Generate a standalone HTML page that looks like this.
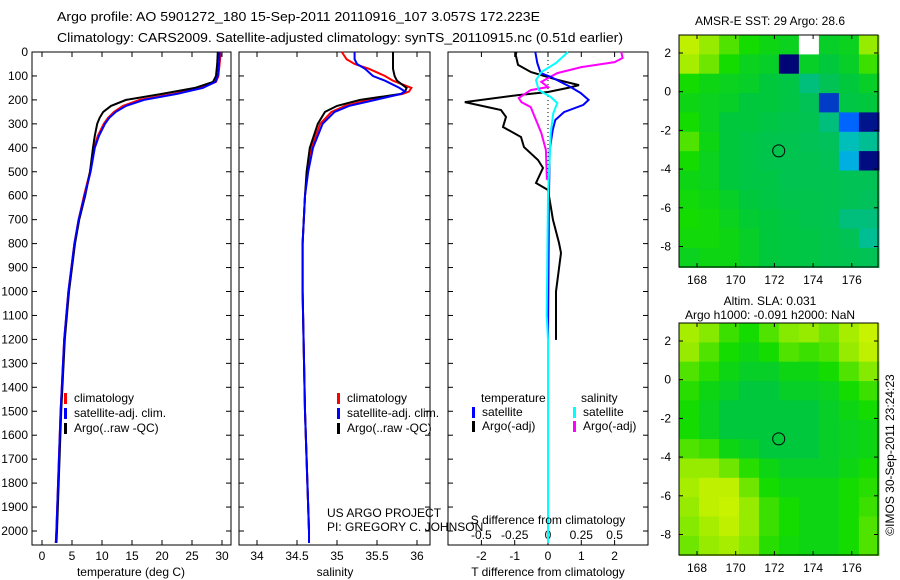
<!DOCTYPE html>
<html><head><meta charset="utf-8">
<style>
html,body{margin:0;padding:0;background:#fff;}
svg{display:block;font-family:"Liberation Sans",sans-serif;font-size:12px;}
</style></head>
<body>
<svg id="fig" width="900" height="580" viewBox="0 0 900 580" xmlns="http://www.w3.org/2000/svg">
<text x="57" y="21" font-size="13" textLength="483" lengthAdjust="spacingAndGlyphs">Argo profile: AO 5901272_180 15-Sep-2011 20110916_107 3.057S 172.223E</text>
<text x="57" y="42" font-size="13" textLength="566" lengthAdjust="spacingAndGlyphs">Climatology: CARS2009. Satellite-adjusted climatology: synTS_20110915.nc (0.51d earlier)</text>
<g id="p1"></g>
<g id="p2"></g>
<g id="p3"></g>
<g id="m1"></g>
<g id="m2"></g>
<text x="327" y="517">US ARGO PROJECT</text>
<text x="327" y="531">PI: GREGORY C. JOHNSON</text>
<text x="770" y="25" text-anchor="middle">AMSR-E SST: 29 Argo: 28.6</text>
<text x="770" y="305" text-anchor="middle">Altim. SLA: 0.031</text>
<text x="770" y="319" text-anchor="middle">Argo h1000: -0.091 h2000: NaN</text>
<text transform="translate(894,455) rotate(-90)" text-anchor="middle">©IMOS 30-Sep-2011 23:24:23</text>
</svg>
<script>
// ---- data ----
const depthTicks=[0,100,200,300,400,500,600,700,800,900,1000,1100,1200,1300,1400,1500,1600,1700,1800,1900,2000];
const tempTicks=[0,5,10,15,20,25,30];
const salTicks=[34,34.5,35,35.5,36];
const tdiffTicks=[-2,-1,0,1,2];
const sdiffTicks=[-0.5,-0.25,0,0.25,0.5];
const sdiffTickLabels=["-0.5","-0.25","0","0.25","0.5"];

const tDepth=[0,50,100,125,150,175,200,225,250,275,300,350,400,500,600,700,800,1000,1200,1500,2000,2050];
const tArgo=[29.3,29.2,29.0,28.5,25.5,20,14,11.5,10.2,9.6,9.2,8.8,8.5,8.0,7.2,6.2,5.5,4.5,3.8,3.2,2.5,2.4];
const tClim=[29.8,29.6,29.4,29.0,26.5,22,16.3,13.5,12,11,10.3,9.3,8.7,8.0,7.0,6.1,5.4,4.4,3.7,3.1,2.4,2.3];
const tSat=[29.6,29.5,29.3,28.9,26.8,22.5,17,14,12.3,11.2,10.5,9.5,8.8,8.1,7.1,6.1,5.4,4.4,3.7,3.1,2.4,2.3];

const sDepth=[0,30,50,70,100,120,150,165,175,200,225,250,300,400,500,600,800,1000,1500,2000,2050];
const sArgo=[35.7,35.7,35.7,35.7,35.72,35.75,35.87,35.85,35.8,35.29,35.0,34.85,34.76,34.66,34.62,34.6,34.57,34.57,34.6,34.65,34.65];
const sClim=[35.06,35.12,35.22,35.4,35.6,35.7,35.93,35.9,35.82,35.4,35.1,34.93,34.79,34.68,34.63,34.6,34.57,34.57,34.6,34.65,34.65];
const sSat=[35.22,35.22,35.25,35.35,35.45,35.6,35.78,35.85,35.8,35.48,35.15,34.97,34.82,34.7,34.64,34.6,34.57,34.57,34.6,34.65,34.65];

const dtArgoDepth=[0,12,54,84,117,138,150,167,180,209,242,271,313,355,397,451,484,547,576,701,797,839,1000,1202];
const dtArgo=[-0.95,-0.97,-0.9,-0.51,0.3,0.93,0.6,0,-0.9,-2.5,-1.41,-1.26,-1.35,-0.81,-0.72,-0.3,-0.15,-0.36,0,0.15,0.33,0.39,0.24,0.24];
const dtSatDepth=[0,46,88,104,146,171,200,221,251,284,326,409,600,1200,2050];
const dtSat=[-0.38,-0.32,-0.22,0.08,0.68,0.98,1.22,1.06,0.48,0.22,0.14,0.05,0.03,0,0];
const dsSatDepth=[0,46,84,117,159,188,213,255,338,600,1100,1200,2050];
const dsSat=[0.15,0.06,-0.05,-0.09,-0.07,0.02,0.07,0.04,0.02,0.0,-0.01,0,0];
const dsArgoDepth=[0,25,42,63,88,125,146,159,192,209,230,284,338,409,534];
const dsArgo=[0.55,0.56,0.5,0.25,0.07,-0.05,0,-0.13,-0.22,-0.2,-0.13,-0.09,-0.05,-0.016,-0.008];

const mapXTicks=[168,170,172,174,176];
const mapYTicks=[2,0,-2,-4,-6,-8];
const sstGrid=[
[0.85,0.8,0.72,0.66,0.64,0.63,-1,0.62,0.63,0.8],
[0.82,0.75,0.66,0.63,0.62,0.05,0.62,0.6,0.62,0.7],
[0.66,0.64,0.63,0.62,0.6,0.58,0.5,0.55,0.6,0.62],
[0.64,0.63,0.62,0.6,0.6,0.58,0.55,0.25,0.58,0.6],
[0.66,0.63,0.6,0.6,0.58,0.57,0.56,0.5,0.3,0.2],
[0.72,0.64,0.6,0.58,0.57,0.56,0.55,0.54,0.45,0.48],
[0.66,0.63,0.6,0.58,0.57,0.56,0.56,0.55,0.4,0.12],
[0.64,0.63,0.6,0.58,0.58,0.56,0.56,0.56,0.55,0.55],
[0.65,0.64,0.62,0.6,0.58,0.57,0.57,0.56,0.55,0.54],
[0.66,0.65,0.63,0.61,0.6,0.58,0.57,0.56,0.5,0.5],
[0.65,0.65,0.64,0.62,0.6,0.59,0.58,0.57,0.55,0.48],
[0.63,0.64,0.64,0.62,0.6,0.59,0.58,0.57,0.56,0.55]];
const slaGrid=[
[0.82,0.78,0.7,0.66,0.72,0.78,0.8,0.75,0.82,0.88],
[0.8,0.72,0.66,0.64,0.66,0.72,0.7,0.72,0.8,0.85],
[0.72,0.68,0.64,0.62,0.62,0.64,0.64,0.66,0.72,0.78],
[0.68,0.64,0.62,0.6,0.6,0.62,0.62,0.63,0.66,0.7],
[0.66,0.63,0.6,0.6,0.6,0.6,0.6,0.62,0.64,0.66],
[0.66,0.63,0.6,0.6,0.6,0.6,0.6,0.62,0.63,0.64],
[0.72,0.7,0.64,0.62,0.6,0.6,0.6,0.62,0.63,0.64],
[0.8,0.8,0.75,0.68,0.64,0.62,0.62,0.62,0.64,0.66],
[0.82,0.85,0.85,0.75,0.66,0.64,0.64,0.64,0.66,0.68],
[0.8,0.85,0.88,0.8,0.7,0.66,0.64,0.64,0.66,0.7],
[0.78,0.82,0.85,0.8,0.7,0.66,0.64,0.64,0.66,0.72],
[0.75,0.8,0.82,0.78,0.68,0.65,0.64,0.64,0.66,0.72]];
const argoLon=172.223, argoLat=-3.057;

// ---- helpers ----
const NS="http://www.w3.org/2000/svg";
function mk(tag,attrs,parent){const e=document.createElementNS(NS,tag);for(const k in attrs)e.setAttribute(k,attrs[k]);parent.appendChild(e);return e;}
const Y=d=>52+d*0.2395;
const TOP=52,BOT=545;
function frame(g,x0,x1){const r=mk('rect',{x:x0,y:TOP,width:x1-x0,height:BOT-TOP,fill:'none',stroke:'#000','stroke-width':1},g);}
function line(g,xs,ds,fx,color,w,name,dash){
  const pts=xs.map((v,i)=>fx(v).toFixed(1)+','+Y(ds[i]).toFixed(1)).join(' ');
  const p=mk('polyline',{points:pts,fill:'none',stroke:color,'stroke-width':w},g);
  if(dash)p.setAttribute('stroke-dasharray',dash);
  
  
}
function xticks(g,ticks,fx,labels,ly,top){
  ticks.forEach((t,i)=>{
    mk('line',{x1:fx(t),x2:fx(t),y1:BOT,y2:BOT-5,stroke:'#000'},g);
    if(top)mk('line',{x1:fx(t),x2:fx(t),y1:TOP,y2:TOP+5,stroke:'#000'},g);
    const tx=mk('text',{x:fx(t),y:ly,'text-anchor':'middle'},g);tx.textContent=labels?labels[i]:t;
    
    
  });
}
function yticks(g,x0,x1,labels){
  depthTicks.forEach(d=>{
    mk('line',{x1:x0,x2:x0+5,y1:Y(d),y2:Y(d),stroke:'#000'},g);
    mk('line',{x1:x1,x2:x1-5,y1:Y(d),y2:Y(d),stroke:'#000'},g);
    if(labels){const t=mk('text',{x:x0-4,y:Y(d)+4,'text-anchor':'end'},g);t.textContent=d;
      
      }
  });
}
function legend(g,x,y,color,label){
  mk('rect',{x:x,y:y-9,width:3,height:11,fill:color},g);
  const t=mk('text',{x:x+10,y:y},g);t.textContent=label;
  
  
}
function title(g,x,y,s){const t=mk('text',{x:x,y:y,'text-anchor':'middle'},g);t.textContent=s;}

// ---- panel 1 ----
const g1=document.getElementById('p1');
const fT=t=>42+t*6;
frame(g1,32,231);yticks(g1,32,231,true);xticks(g1,tempTicks,fT,null,560,true);
line(g1,tClim,tDepth,fT,'#ff0000',2,'climatology-temp-line');
line(g1,tArgo,tDepth,fT,'#000',2,'argo-temp-line');
line(g1,tSat,tDepth,fT,'#0000ff',2,'satellite-temp-line');
legend(g1,64,402,'#ff0000','climatology');legend(g1,64,417,'#0000ff','satellite-adj. clim.');legend(g1,64,432,'#000','Argo(..raw -QC)');
title(g1,131,576,'temperature (deg C)');

// ---- panel 2 ----
const g2=document.getElementById('p2');
const fS=s=>257+(s-34)*80;
frame(g2,239,430);yticks(g2,239,430,false);xticks(g2,salTicks,fS,null,560,true);
line(g2,sClim,sDepth,fS,'#ff0000',2,'climatology-salinity-line');
line(g2,sArgo,sDepth,fS,'#000',2,'argo-salinity-line');
line(g2,sSat,sDepth,fS,'#0000ff',2,'satellite-salinity-line');
legend(g2,337,402,'#ff0000','climatology');legend(g2,337,417,'#0000ff','satellite-adj. clim.');legend(g2,337,432,'#000','Argo(..raw -QC)');
title(g2,335,576,'salinity');

// ---- panel 3 ----
const g3=document.getElementById('p3');
const fDT=t=>548+t*33.3, fDS=s=>548+s*133.2;
frame(g3,448,648);yticks(g3,448,648,false);xticks(g3,tdiffTicks,fDT,null,560,true);
sdiffTicks.forEach((s,i)=>{const t=mk('text',{x:fDS(s),y:539,'text-anchor':'middle'},g3);t.textContent=sdiffTickLabels[i];});
mk('line',{x1:548,x2:548,y1:TOP,y2:BOT,stroke:'#000','stroke-dasharray':'1,3'},g3);
line(g3,dtArgo,dtArgoDepth,fDT,'#000',2,'t-diff-argo-line');
line(g3,dsArgo,dsArgoDepth,fDS,'#ff00ff',2,'s-diff-argo-line');
line(g3,dtSat,dtSatDepth,fDT,'#0000ff',2,'t-diff-satellite-line');
line(g3,dsSat,dsSatDepth,fDS,'#00ffff',2,'s-diff-satellite-line');
(function(){const t=mk('text',{x:481,y:402},g3);t.textContent='temperature';
const s=mk('text',{x:581,y:402},g3);s.textContent='salinity';})();
legend(g3,472,416,'#0000ff','satellite');legend(g3,472,430,'#000','Argo(-adj)');
legend(g3,573,416,'#00ffff','satellite');legend(g3,573,430,'#ff00ff','Argo(-adj)');
title(g3,548,524,'S difference from climatology');
title(g3,548,576,'T difference from climatology');

// ---- maps ----
function cmap(v){
  if(v<0)return '#ffffff';
  const stops=[[0,[0,0,110]],[0.2,[0,20,140]],[0.3,[0,100,255]],[0.42,[0,190,220]],[0.52,[0,190,100]],[0.6,[0,200,60]],[0.66,[20,220,0]],[0.75,[110,230,0]],[0.85,[190,240,0]],[1,[240,255,0]]];
  for(let i=1;i<stops.length;i++){if(v<=stops[i][0]){const a=stops[i-1],b=stops[i],f=(v-a[0])/(b[0]-a[0]);const c=a[1].map((x,j)=>Math.round(x+(b[1][j]-x)*f));return 'rgb('+c.join(',')+')';}}
  return 'rgb(240,255,0)';
}
function drawMap(id,grid,top,name){
  const g=document.getElementById(id);
  const L=679,R=878,B=top+232;
  const mx=lon=>697+(lon-168)*19.35, my=lat=>top+18+(2.93-lat-0.93)*19.35;
  const lon0=167.07,lat0=2.93,cw=(177.4-lon0)/grid[0].length,ch=(lat0+9.07)/grid.length;
  grid.forEach((row,r)=>row.forEach((v,c)=>{
    const x=mx(lon0+c*cw),y=my(lat0-r*ch);
    const cell=mk('rect',{x:x.toFixed(1),y:y.toFixed(1),width:(cw*19.35+0.6).toFixed(1),height:(ch*19.35+0.6).toFixed(1),fill:cmap(v)},g);
    
    
  }));
  const fr=mk('rect',{x:L,y:top,width:R-L,height:B-top,fill:'none',stroke:'#000'},g);
  
  mapXTicks.forEach(t=>{mk('line',{x1:mx(t),x2:mx(t),y1:B,y2:B-4,stroke:'#000'},g);mk('line',{x1:mx(t),x2:mx(t),y1:top,y2:top+4,stroke:'#000'},g);
    const tx=mk('text',{x:mx(t),y:B+17,'text-anchor':'middle'},g);tx.textContent=t;});
  mapYTicks.forEach(t=>{mk('line',{x1:L,x2:L+4,y1:my(t),y2:my(t),stroke:'#000'},g);mk('line',{x1:R,x2:R-4,y1:my(t),y2:my(t),stroke:'#000'},g);
    const tx=mk('text',{x:L-8,y:my(t)+4,'text-anchor':'end'},g);tx.textContent=t;});
  const c=mk('circle',{cx:mx(argoLon),cy:my(argoLat),r:6,fill:'none',stroke:'#000'},g);
  
  
}
drawMap('m1',sstGrid,35,'sst-map');
drawMap('m2',slaGrid,323,'sla-map');
</script>
</body></html>
